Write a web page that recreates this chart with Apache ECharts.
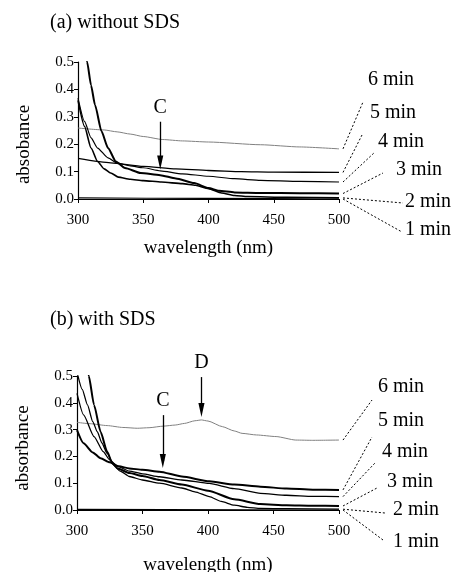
<!DOCTYPE html>
<html>
<head>
<meta charset="utf-8">
<style>html,body{margin:0;padding:0;background:#fff}#main{width:466px;height:572px}</style>
<script src="https://cdn.jsdelivr.net/npm/echarts@6/dist/echarts.min.js"></script>
</head>
<body>
<div id="main"></div>
<script>
var minLabels = ['1 min', '2 min', '3 min', '4 min', '5 min', '6 min'];

// (a) without SDS : [wavelength nm, absorbance]
var a1 = [[300,0.004],[400,0.002],[500,0.0]];
var a2 = [[300,0.36],[305,0.265],[310,0.186],[315,0.137],[320,0.11],[325,0.095],[331,0.08],[340,0.072],[350,0.067],[364,0.062],[380,0.056],[390,0.05],[400,0.038],[410,0.022],[420,0.013],[430,0.009],[460,0.006],[500,0.004]];
var a3 = [[305,0.56],[307,0.5],[310,0.415],[313,0.344],[318,0.247],[323,0.186],[329,0.137],[336,0.113],[348,0.095],[363,0.087],[375,0.075],[389,0.058],[400,0.04],[408,0.03],[420,0.024],[440,0.022],[470,0.021],[500,0.02]];
var a4 = [[300,0.368],[305,0.283],[310,0.223],[315,0.186],[323,0.15],[330,0.131],[340,0.121],[350,0.114],[363,0.103],[380,0.092],[400,0.083],[420,0.074],[440,0.068],[470,0.064],[500,0.062]];
var a5 = [[300,0.148],[325,0.132],[350,0.119],[375,0.11],[400,0.104],[425,0.1],[450,0.098],[500,0.097]];
var a6 = [[300,0.259],[320,0.252],[330,0.245],[340,0.237],[350,0.228],[365,0.217],[380,0.212],[400,0.208],[440,0.198],[470,0.19],[500,0.183]];

// (b) with SDS
var b1 = [[300,0.002],[500,0.0]];
var b2 = [[300,0.515],[304,0.45],[308,0.392],[312,0.33],[315.5,0.292],[319,0.25],[323,0.211],[328,0.168],[333,0.145],[340,0.125],[350,0.112],[363,0.1],[380,0.082],[390,0.068],[401,0.05],[410,0.032],[420,0.018],[430,0.01],[440,0.006],[460,0.005],[500,0.003]];
var b3 = [[307,0.56],[309,0.5],[313,0.392],[318,0.292],[323,0.218],[327,0.174],[331,0.155],[340,0.138],[350,0.127],[363,0.112],[380,0.095],[400,0.072],[420,0.04],[440,0.022],[460,0.018],[480,0.016],[500,0.015]];
var b4 = [[300,0.435],[305,0.355],[313,0.274],[320,0.218],[325,0.187],[331,0.163],[340,0.145],[350,0.135],[363,0.124],[380,0.112],[401,0.099],[420,0.08],[440,0.062],[460,0.055],[480,0.051],[500,0.05]];
var b5 = [[300,0.298],[305,0.249],[312,0.215],[318,0.193],[325,0.178],[332,0.163],[340,0.155],[350,0.15],[363,0.143],[380,0.125],[401,0.107],[420,0.095],[440,0.087],[460,0.08],[480,0.076],[500,0.075]];
var b6 = [[300,0.327],[310,0.322],[323,0.315],[335,0.308],[346,0.305],[355,0.307],[366,0.313],[375,0.317],[382,0.323],[390,0.333],[395,0.336],[400,0.332],[411,0.311],[420,0.295],[426,0.286],[437,0.28],[452,0.274],[467,0.261],[480,0.26],[500,0.261]];

// arrows: [x, from y, to y, letter]
var arrowsA = [[363, 0.282, 0.133, 'C']];
var arrowsB = [[365.5, 0.354, 0.183, 'C'], [395, 0.496, 0.373, 'D']];

var curvesA = [a1, a2, a3, a4, a5, a6];
var curvesB = [b1, b2, b3, b4, b5, b6];

var FONT = 'Liberation Serif';
var widthsA = [1.2, 1.6, 2, 1.2, 1.3, 1];
var widthsB = [1.2, 1.3, 2, 1.3, 2, 1];
var ARROW = 'path://M3.5,0 L7,16 L0,16 Z';

// leader ends and label positions in pixels (layout only)
var leaderLayout = [
  { ends: [[402,232],[403,203],[383,173],[375,152],[362,135],[363,102]],
    text: [[405,230],[405,202],[396,170],[378,142],[370,113],[368,80]] },
  { ends: [[383,540],[385,513],[377,488],[375,463],[372,437],[372,400]],
    text: [[393,542],[393,510],[387,482],[382,452],[378,421],[378,387]] }
];

var chart = echarts.init(document.getElementById('main'));

function xAxisCfg(gi, gap) {
  return {
    gridIndex: gi, type: 'value', min: 300, max: 500, interval: 50,
    name: 'wavelength (nm)', nameLocation: 'middle', nameGap: gap,
    nameTextStyle: { fontFamily: FONT, fontSize: 19, color: '#000' },
    axisLine: { lineStyle: { color: '#000', width: 1.2 } },
    axisTick: { length: 4, lineStyle: { color: '#000' } },
    axisLabel: { fontFamily: FONT, fontSize: 15, color: '#000', margin: 14 },
    splitLine: { show: false }
  };
}
function yAxisCfg(gi, name, shift) {
  return {
    gridIndex: gi, type: 'value', min: 0, max: 0.5, interval: 0.1,
    name: name, nameLocation: 'middle', nameGap: 44,
    nameTextStyle: { fontFamily: FONT, fontSize: 19, color: '#000', padding: [0, shift, 0, 0] },
    axisLine: { show: true, lineStyle: { color: '#000', width: 1.2 } },
    axisTick: { show: true, length: 4, lineStyle: { color: '#000' } },
    axisLabel: { fontFamily: FONT, fontSize: 15, color: '#000', margin: 4,
      formatter: function (v) { return v.toFixed(1); } },
    splitLine: { show: false }
  };
}

function markArrows(list) {
  return {
    silent: true, animation: false,
    symbol: ['none', ARROW], symbolSize: 14, symbolKeepAspect: true,
    lineStyle: { color: '#000', width: 1.3, type: 'solid' },
    label: { show: true, position: 'start', distance: 4, fontFamily: FONT, fontSize: 20, color: '#000',
      formatter: function (p) { return p.name; } },
    data: list.map(function (a) {
      return [{ name: a[3], coord: [a[0], a[1]], symbolKeepAspect: true },
              { coord: [a[0], a[2]], symbolKeepAspect: true }];
    })
  };
}

var series = [];
[curvesA, curvesB].forEach(function (curves, gi) {
  var widths = gi === 0 ? widthsA : widthsB;
  curves.forEach(function (d, i) {
    var s = {
      name: (gi === 0 ? 'a ' : 'b ') + minLabels[i], type: 'line',
      xAxisIndex: gi, yAxisIndex: gi, data: d,
      showSymbol: false, smooth: 0.2, smoothMonotone: 'x',
      lineStyle: { color: i === 5 ? '#808080' : '#000', width: widths[i] },
      z: i === 5 ? 1 : 2
    };
    if (i === 5) s.markLine = markArrows(gi === 0 ? arrowsA : arrowsB);
    series.push(s);
  });
});

chart.setOption({
  animation: false,
  title: [
    { text: '(a) without SDS', left: 50, top: 13, padding: 0, textStyle: { fontFamily: FONT, fontSize: 20, fontWeight: 'normal', color: '#000' } },
    { text: '(b) with SDS', left: 50, top: 310, padding: 0, textStyle: { fontFamily: FONT, fontSize: 20, fontWeight: 'normal', color: '#000' } }
  ],
  grid: [
    { left: 78, top: 62, width: 261, height: 137, outerBoundsMode: 'none' },
    { left: 77, top: 376, width: 262, height: 134, outerBoundsMode: 'none' }
  ],
  xAxis: [xAxisCfg(0, 40), xAxisCfg(1, 46)],
  yAxis: [yAxisCfg(0, 'absobance', 28), yAxisCfg(1, 'absorbance', 10)],
  series: series
});

// dotted leaders from each curve end to its label
var graphic = [];
[curvesA, curvesB].forEach(function (curves, gi) {
  var lay = leaderLayout[gi];
  curves.forEach(function (d, i) {
    var last = d[d.length - 1];
    var p = chart.convertToPixel({ gridIndex: gi }, last);
    graphic.push({
      type: 'line', silent: true,
      shape: { x1: p[0] + 4, y1: p[1], x2: lay.ends[i][0], y2: lay.ends[i][1] },
      style: { stroke: '#000', lineWidth: 1, lineDash: [2, 2] }
    });
    graphic.push({
      type: 'text', silent: true, x: lay.text[i][0], y: lay.text[i][1],
      style: { text: minLabels[i], fontFamily: FONT, fontSize: 20, fill: '#000', verticalAlign: 'middle' }
    });
  });
});
chart.setOption({ graphic: graphic });
</script>
</body>
</html>
